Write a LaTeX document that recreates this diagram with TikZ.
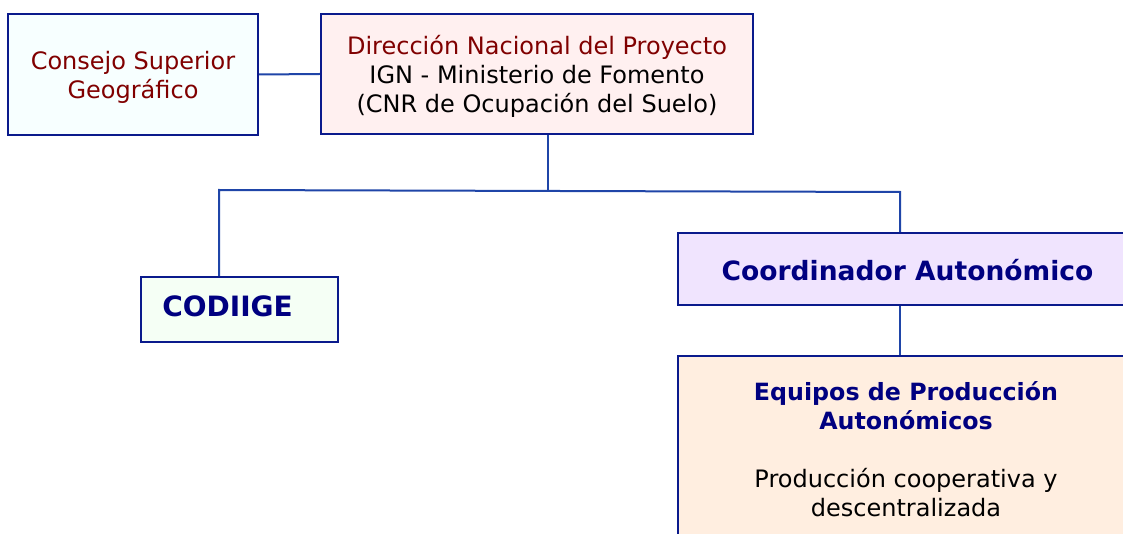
\documentclass[tikz,border=0pt]{standalone}
\usepackage{fontspec}
\setmainfont{DejaVu Sans}
\usetikzlibrary{calc}
\definecolor{boxline}{HTML}{0A1A8C}
\definecolor{conn}{HTML}{1F45A8}
\definecolor{darkred}{HTML}{800000}
\definecolor{navy}{HTML}{000080}
\definecolor{fillA}{HTML}{F7FFFF}
\definecolor{fillB}{HTML}{FFF0F0}
\definecolor{fillC}{HTML}{F5FFF5}
\definecolor{fillD}{HTML}{F0E4FE}
\definecolor{fillE}{HTML}{FFEEE0}
\tikzset{
  box/.style={draw=boxline, line width=1.6pt, rectangle, inner sep=0pt, align=center},
  conline/.style={draw=conn, line width=1.5pt},
  reg/.style={font=\fontsize{18}{21.75}\selectfont},
  txt/.style={inner sep=0pt, align=center},
}
\begin{document}
\begin{tikzpicture}[x=0.75pt,y=-0.75pt]
\useasboundingbox (0,0) rectangle (1123,534);
\clip (0,0) rectangle (1123,534);
\node[box, fill=fillA, minimum width=250*0.75pt, minimum height=121*0.75pt] (consejo) at (133,74.5) {};
\node[txt, text=darkred, reg] (consejot) at (133,77) {Consejo Superior\\Geográfico};
\node[box, fill=fillB, minimum width=432*0.75pt, minimum height=120*0.75pt] (dir) at (537,74) {};
\node[txt, reg] (dirt) at (537,76) {\textcolor{darkred}{Dirección Nacional del Proyecto}\\IGN - Ministerio de Fomento\\(CNR de Ocupación del Suelo)};
\node[box, fill=fillC, minimum width=197*0.75pt, minimum height=65*0.75pt] (codiige) at (239.5,309.5) {};
\node[anchor=west, inner sep=0pt, text=navy, font=\fontsize{21}{24}\selectfont\bfseries] (codtxt) at (162,306) {CODIIGE};
\node[box, fill=fillD, minimum width=452*0.75pt, minimum height=72*0.75pt] (coord) at (904,269) {};
\node[txt, text=navy, font=\fontsize{19.9}{24}\selectfont\bfseries] (coordt) at (907.5,270) {Coordinador Autonómico};
\node[box, fill=fillE, minimum width=452*0.75pt, minimum height=189*0.75pt] (equipos) at (904,450.5) {};
\node[anchor=north, txt, text=navy, font=\fontsize{17.8}{21.75}\selectfont\bfseries] (eqt) at (906,381) {Equipos de Producción\\Autonómicos};
\node[anchor=north, txt, reg] (eqd) at (906,468) {Producción cooperativa y\\descentralizada};
\coordinate (j) at (548,190);
\coordinate (hl) at (219,190);
\coordinate (hr) at (900,192);
\draw[conline] (consejo.east) -- (dir.west);
\draw[conline] (j |- dir.south) -- (j);
\draw[conline] (hl |- codiige.north) -- (hl) -- (hr) -- (hr |- coord.north);
\draw[conline] (hr |- coord.south) -- (hr |- equipos.north);
\end{tikzpicture}
\end{document}
